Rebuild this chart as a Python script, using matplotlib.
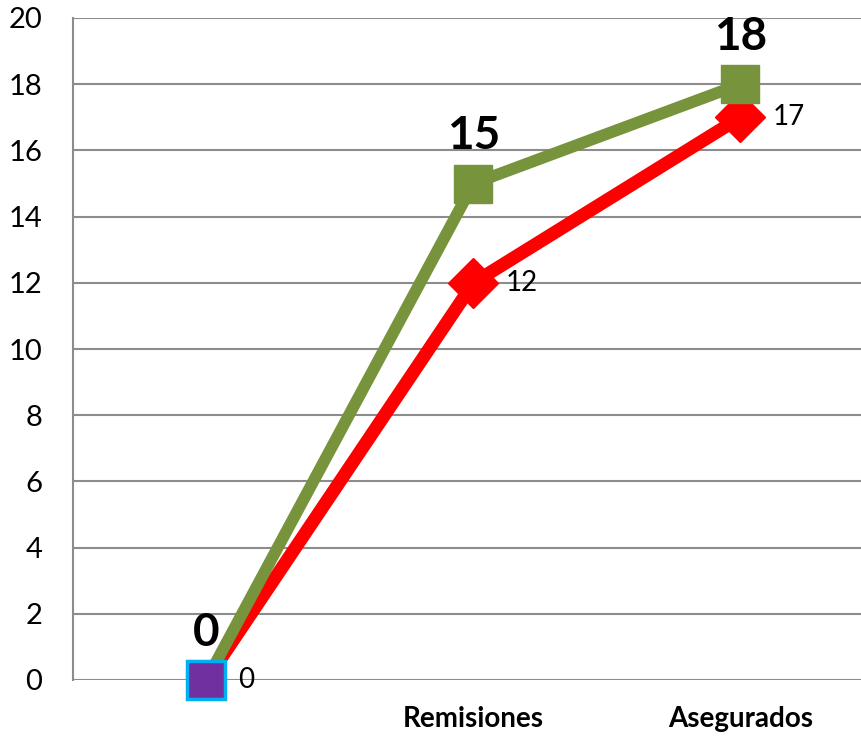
import matplotlib
matplotlib.use("Agg")
import matplotlib.pyplot as plt

categories = ["", "Remisiones", "Asegurados"]
red_values = [0, 12, 17]
green_values = [0, 15, 18]
y_ticks = [0, 2, 4, 6, 8, 10, 12, 14, 16, 18, 20]

plt.rcParams['font.family'] = ['Lato', 'DejaVu Sans']

fig = plt.figure(figsize=(8.62, 7.36), dpi=100)
ax = fig.add_axes([73/862, 1-680/736, 1-73/862, (680-18)/736])

x = list(range(len(categories)))
ax.plot(x, red_values, color='#FF0000', lw=9.5, marker='D', markersize=25,
        markerfacecolor='#FF0000', markeredgecolor='#FF0000', zorder=3,
        solid_joinstyle='round', markevery=[1, 2])
ax.plot(x, green_values, color='#77933C', lw=8.5, marker='s', markersize=28,
        markerfacecolor='#77933C', markeredgecolor='#77933C', zorder=4,
        solid_joinstyle='round', markevery=[1, 2])
# first point purple marker
ax.plot([x[0]], [green_values[0]], marker='s', markersize=27,
        markerfacecolor='#7030A0', markeredgecolor='#00B0F0', markeredgewidth=2.5,
        zorder=5, linestyle='none', clip_on=False)

for xi, v in zip(x, red_values):
    ax.annotate(str(v), (xi, v), xytext=(23, 0), textcoords='offset points',
                ha='left', va='center', fontsize=20, color='black', zorder=6)
for xi, v in zip(x, green_values):
    ax.annotate(str(v), (xi, v), xytext=(0, 19), textcoords='offset points',
                ha='center', va='bottom', fontsize=33, fontweight='bold',
                color='black', zorder=6)

ax.set_xlim(-0.5, -0.5 + (862-73)/267)
ax.set_ylim(0, 20)
ax.set_yticks(y_ticks)
ax.set_xticks(x)
ax.set_xticklabels(categories, fontsize=20, fontweight='bold')
ax.tick_params(axis='y', length=0, labelsize=21, pad=22)
ax.tick_params(axis='x', length=0, pad=19)
ax.yaxis.grid(True, color='#8C8C8C', lw=1.5)
ax.set_axisbelow(True)
for s in ['top', 'right', 'bottom']:
    ax.spines[s].set_visible(False)
ax.spines['left'].set_color('#8C8C8C')
ax.spines['left'].set_linewidth(1.5)

fig.savefig('out.png', dpi=100)
